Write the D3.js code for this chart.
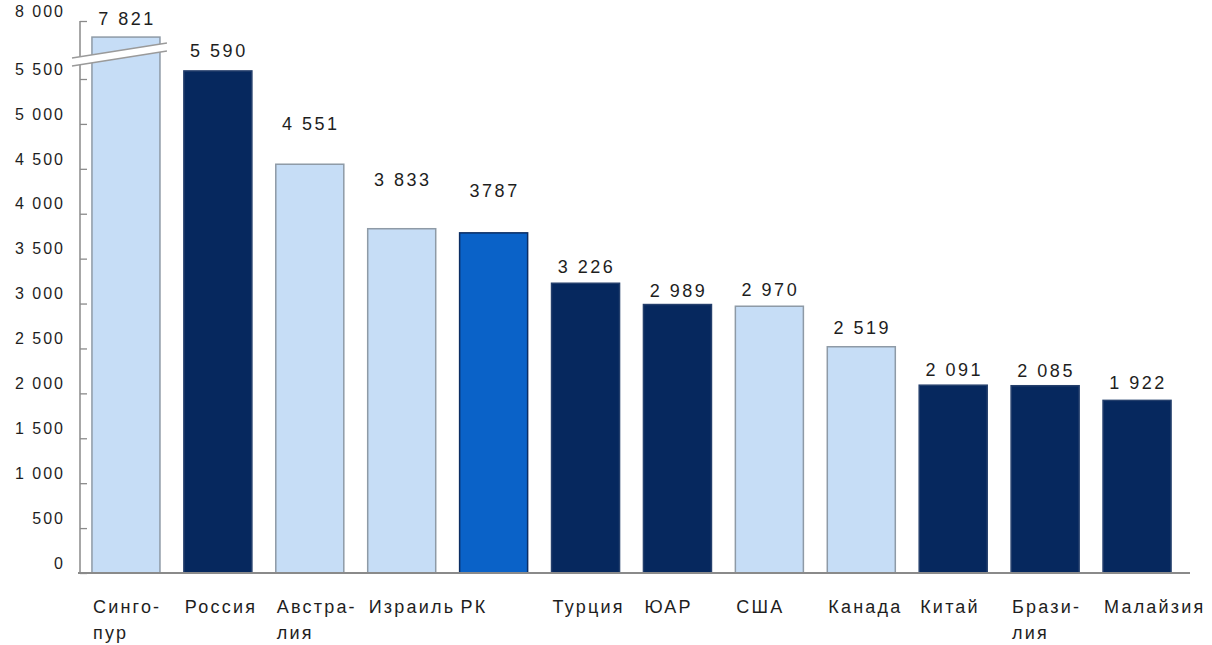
<!DOCTYPE html>
<html>
<head>
<meta charset="utf-8">
<script src="https://cdn.jsdelivr.net/npm/d3@7"></script>
<style>
  body { margin: 0; background: #fff; }
  text { font-family: "Liberation Sans", Arial, sans-serif; fill: #1e1e1e; }
</style>
</head>
<body>
<div id="chart-area"></div>
<script>
// categories (split into lines as in the source)
var countries = [["Синго-", "пур"], ["Россия"], ["Австра-", "лия"], ["Израиль"], ["РК"], ["Турция"],
                 ["ЮАР"], ["США"], ["Канада"], ["Китай"], ["Брази-", "лия"], ["Малайзия"]];
var values = [7821, 5590, 4551, 3833, 3787, 3226, 2989, 2970, 2519, 2091, 2085, 1922];
var valueLabels = ["7 821", "5 590", "4 551", "3 833", "3787", "3 226", "2 989", "2 970", "2 519", "2 091", "2 085", "1 922"];
var groups = ["light", "dark", "light", "light", "kz", "dark", "dark", "light", "light", "dark", "dark", "dark"];
var lowTicks = [0, 500, 1000, 1500, 2000, 2500, 3000, 3500, 4000, 4500, 5000, 5500];
var highTicks = [8000];
var lowTickLabels = ["0", "500", "1 000", "1 500", "2 000", "2 500", "3 000", "3 500", "4 000", "4 500", "5 000", "5 500"];
var highTickLabels = ["8 000"];

// layout / style
var labelLift = [12, 14, 34, 43, 36, 10, 8, 10, 13, 9, 9, 11];
var fills = { light: "#c6ddf6", dark: "#06285e", kz: "#0a62c8" };
var strokes = { light: "#8e9aa6", dark: "#243f6c", kz: "#0b2d63" };

var width = 1212, height = 645;
var axisX = 80, baseY = 573;
var breakAt = 6000;

var svg = d3.select("#chart-area")
    .append("svg")
        .attr("width", width)
        .attr("height", height);

svg.append("rect").attr("width", width).attr("height", height).attr("fill", "#fff");

var keys = countries.map(function(c) { return c.join(""); });

var x = d3.scaleBand()
    .domain(keys)
    .range([axisX, 1183])
    .paddingInner(0.26)
    .paddingOuter(0.13);

var yLow = d3.scaleLinear().domain([0, 5500]).range([baseY, 79]);
var k = (baseY - 79) / 5500;
var yHigh = d3.scaleLinear().domain([7600, 8000]).range([21 + 400 * k, 21]);

function yOf(v) { return v > breakAt ? yHigh(v) : yLow(v); }

var data = values.map(function(v, i) {
    return { key: keys[i], lines: countries[i], value: v, label: valueLabels[i], group: groups[i], lift: labelLift[i] };
});

// y axis line
svg.append("line")
    .attr("x1", axisX).attr("x2", axisX)
    .attr("y1", yHigh(8000)).attr("y2", baseY)
    .attr("stroke", "#8a8a8a").attr("stroke-width", 1.5);

var lowAxis = d3.axisLeft(yLow)
    .tickValues(lowTicks)
    .tickFormat(function(d, i) { return lowTickLabels[i]; })
    .tickSize(-7)
    .tickSizeOuter(0)
    .tickPadding(15);

var highAxis = d3.axisLeft(yHigh)
    .tickValues(highTicks)
    .tickFormat(function(d, i) { return highTickLabels[i]; })
    .tickSize(-7)
    .tickSizeOuter(0)
    .tickPadding(15);

[lowAxis, highAxis].forEach(function(ax) {
    var g = svg.append("g")
        .attr("transform", "translate(" + axisX + ",0)")
        .call(ax);
    g.select(".domain").remove();
    g.selectAll(".tick line").attr("stroke", "#8a8a8a").attr("stroke-width", 1.3);
    g.selectAll(".tick text")
        .attr("font-size", "16px")
        .attr("letter-spacing", "2px")
        .attr("font-family", "'Liberation Sans', Arial, sans-serif")
        .attr("fill", "#222")
        .attr("dy", "-0.3em");
});

// bars
svg.selectAll("rect.bar")
    .data(data)
    .enter()
    .append("rect")
        .attr("class", "bar")
        .attr("x", function(d) { return x(d.key); })
        .attr("y", function(d) { return yOf(d.value); })
        .attr("width", x.bandwidth())
        .attr("height", function(d) { return baseY - yOf(d.value); })
        .attr("fill", function(d) { return fills[d.group]; })
        .attr("stroke", function(d) { return strokes[d.group]; })
        .attr("stroke-width", 1.5);

// axis break across the first bar
var b0 = axisX - 8, b1 = x(keys[0]) + x.bandwidth() + 7;
var breakTop = [[b0, 58], [b1, 43]], breakBot = [[b0, 66], [b1, 51]];
svg.append("path")
    .attr("d", d3.line()([breakTop[0], breakTop[1], breakBot[1], breakBot[0]]) + "Z")
    .attr("fill", "#fff")
    .attr("stroke", "none");
[breakTop, breakBot].forEach(function(p) {
    svg.append("path")
        .attr("d", d3.line()(p))
        .attr("stroke", "#9a9a9a")
        .attr("stroke-width", 1.3)
        .attr("fill", "none");
});

// x axis line
svg.append("line")
    .attr("x1", axisX - 2).attr("x2", 1190)
    .attr("y1", baseY).attr("y2", baseY)
    .attr("stroke", "#8a8a8a").attr("stroke-width", 2);

// value labels
svg.selectAll("text.value")
    .data(data)
    .enter()
    .append("text")
        .attr("class", "value")
        .attr("x", function(d) { return x(d.key) + x.bandwidth() / 2 + 1; })
        .attr("y", function(d) { return yOf(d.value) - d.lift; })
        .attr("text-anchor", "middle")
        .attr("font-size", "18px")
        .attr("letter-spacing", "2.5px")
        .text(function(d) { return d.label; });

// category labels
var cat = svg.selectAll("text.cat")
    .data(data)
    .enter()
    .append("text")
        .attr("class", "cat")
        .attr("x", function(d) { return x(d.key) + 1; })
        .attr("y", 613)
        .attr("font-size", "18px")
        .attr("letter-spacing", "2.2px");

cat.selectAll("tspan")
    .data(function(d) { return d.lines.map(function(l) { return { text: l, x: x(d.key) + 1 }; }); })
    .enter()
    .append("tspan")
        .attr("x", function(t) { return t.x; })
        .attr("dy", function(t, i) { return i === 0 ? 0 : 26; })
        .text(function(t) { return t.text; });
</script>
</body>
</html>
